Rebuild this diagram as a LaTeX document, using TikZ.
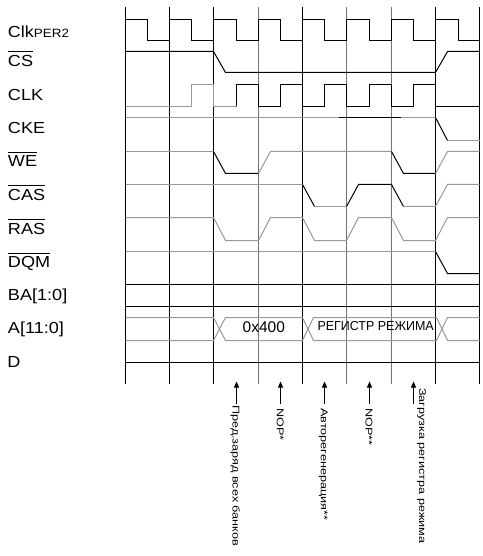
\documentclass[tikz,border=0pt]{standalone}
\usepackage{fontspec}
\usepackage{graphicx}
\setmainfont{Liberation Sans}
\usetikzlibrary{arrows.meta}
\definecolor{sig}{gray}{0.6}
\definecolor{gridg}{gray}{0.45}
\newcommand\ovl[1]{\vbox{\hrule height 0.9bp\kern 3.2bp\hbox{#1}}}
\tikzset{
  lbl/.style={anchor=base west, inner sep=0pt, font=\fontsize{16bp}{19bp}\selectfont},
  sigk/.style={line width=1bp, draw=black},
  sigg/.style={line width=1bp, draw=sig},
  vgrid/.style={line width=1bp},
  evt/.style={rotate=-90, anchor=base west, inner sep=0pt, font=\fontsize{9.8bp}{11bp}\selectfont},
  evarrow/.style={line width=1bp, -{Triangle[length=6bp,width=5bp]}},
  busk/.style={inner sep=0pt},
}
\begin{document}
\begin{tikzpicture}[x=1bp,y=-1bp]
\useasboundingbox[fill=white] (0,0) rectangle (483,556);

% signal names
\node[lbl] (nclk2) at (7.8,37.3) {\scalebox{1.12}[1]{Clk{\fontsize{12bp}{14bp}\selectfont PER2}}};
\node[lbl] (ncs)  at (7.8,66.7)  {\scalebox{1.13}[1]{\ovl{CS}}};
\node[lbl] (nclk) at (7.8,100.3) {\scalebox{1.13}[1]{CLK}};
\node[lbl] (ncke) at (7.8,133.7) {\scalebox{1.13}[1]{CKE}};
\node[lbl] (nwe)  at (7.8,167.0) {\scalebox{1.13}[1]{\ovl{WE}}};
\node[lbl] (ncas) at (7.8,200.3) {\scalebox{1.13}[1]{\ovl{CAS}}};
\node[lbl] (nras) at (7.8,234.0) {\scalebox{1.13}[1]{\ovl{RAS}}};
\node[lbl] (ndqm) at (7.8,267.8) {\scalebox{1.13}[1]{\ovl{DQM}}};
\node[lbl] (nba)  at (7.8,300.3) {\scalebox{1.13}[1]{BA[1:0]}};
\node[lbl] (na)   at (7.8,333.5) {\scalebox{1.13}[1]{A[11:0]}};
\node[lbl] (nd)   at (7.2,367.3) {\scalebox{1.13}[1]{D}};

\begin{scope}[shift={(0.5,0.5)}]
% vertical grid
\foreach \x/\c in {125/black,169/black,213/black,258/gridg,302/black,346/gridg,391/gridg,435/black,479/black}
  \draw[vgrid,draw=\c] (\x,7) -- (\x,383);

% Clk PER2
\draw[sigk] (125,19) -- (147,19) -- (147,40) -- (169,40) -- (169,19) -- (191,19) -- (191,40) -- (213,40) -- (213,19) -- (236,19) -- (236,40) -- (258,40) -- (258,19) -- (280,19) -- (280,40) -- (302,40) -- (302,19) -- (324,19) -- (324,40) -- (346,40) -- (346,19) -- (369,19) -- (369,40) -- (391,40) -- (391,19) -- (413,19) -- (413,40) -- (435,40) -- (435,19) -- (458,19) -- (458,40) -- (479,40);

% CS
\draw[sigk] (125,51) -- (213,51) -- (225,72) -- (435,72) -- (447,51) -- (479,51);

% CLK
\draw[sigg] (125,106) -- (191,106) -- (191,84) -- (213,84) -- (213,106) -- (236,106);
\draw[sigk] (236,106) -- (236,84) -- (258,84) -- (258,106) -- (280,106) -- (280,84) -- (302,84) -- (302,106) -- (324,106) -- (324,84) -- (346,84) -- (346,106) -- (369,106) -- (369,84) -- (391,84) -- (391,106) -- (413,106) -- (413,84) -- (435,84) -- (435,106) -- (479,106);

% CKE
\draw[sigg] (125,117) -- (338,117);
\draw[sigk] (338,117) -- (400,117);
\draw[sigg] (400,117) -- (435,117);
\draw[sigk] (435,117) -- (447,140);
\draw[sigg] (447,140) -- (479,140);

% WE
\draw[sigg] (125,151) -- (213,151);
\draw[sigk] (213,151) -- (225,173) -- (258,173);
\draw[sigg] (258,173) -- (270,151) -- (391,151);
\draw[sigk] (391,151) -- (403,173) -- (435,173);
\draw[sigg] (435,173) -- (447,151) -- (479,151);

% CAS
\draw[sigg] (125,184) -- (302,184);
\draw[sigk] (302,184) -- (314,206);
\draw[sigg] (314,206) -- (346,206);
\draw[sigk] (346,206) -- (358,184) -- (391,184) -- (403,206);
\draw[sigg] (403,206) -- (435,206) -- (447,184) -- (479,184);

% RAS
\draw[sigg] (125,217) -- (213,217) -- (225,240) -- (258,240) -- (270,217) -- (302,217) -- (314,240) -- (346,240) -- (358,217) -- (391,217) -- (403,240) -- (435,240) -- (447,217) -- (479,217);

% DQM
\draw[sigg] (125,251) -- (435,251);
\draw[sigk] (435,251) -- (447,273) -- (479,273);

% BA
\draw[sigk] (125,284) -- (479,284);
\draw[sigk] (125,306) -- (479,306);

% A bus
\draw[sigg] (125,317) -- (213,317) -- (225,340) -- (302,340) -- (313,317) -- (436,317) -- (447,340) -- (479,340);
\draw[sigg] (125,340) -- (213,340) -- (225,317) -- (302,317) -- (313,340) -- (436,340) -- (447,317) -- (479,317);

% D
\draw[sigk] (125,362) -- (479,362);

% event arrows
\foreach \i/\x in {1/236,2/280,3/324,4/369,5/413}{
  \coordinate (tip\i) at (\x,381);
  \coordinate (st\i) at (\x,403);
  \draw[evarrow] (st\i) -- (tip\i);
}
\end{scope}

\node[busk, anchor=base, font=\fontsize{15.5bp}{18bp}\selectfont] (v400) at (263.8,332.7) {0x400};
\node[busk, anchor=base west, font=\fontsize{13bp}{15bp}\selectfont] (vreg) at (317.3,330) {\scalebox{0.96}[1]{РЕГИСТР РЕЖИМА}};

\node[evt] (e1) at (232.6,405) {\scalebox{1.29}[1]{Пред.заряд всех банков}};
\node[evt] (e2) at (276.8,408) {\scalebox{1.29}[1]{NOP*}};
\node[evt] (e3) at (320.8,408) {\scalebox{1.29}[1]{Авторегенерация**}};
\node[evt] (e4) at (365.5,408) {\scalebox{1.29}[1]{NOP**}};
\node[evt] (e5) at (419,388) {\scalebox{1.29}[1]{Загрузка регистра режима}};
\end{tikzpicture}
\end{document}
